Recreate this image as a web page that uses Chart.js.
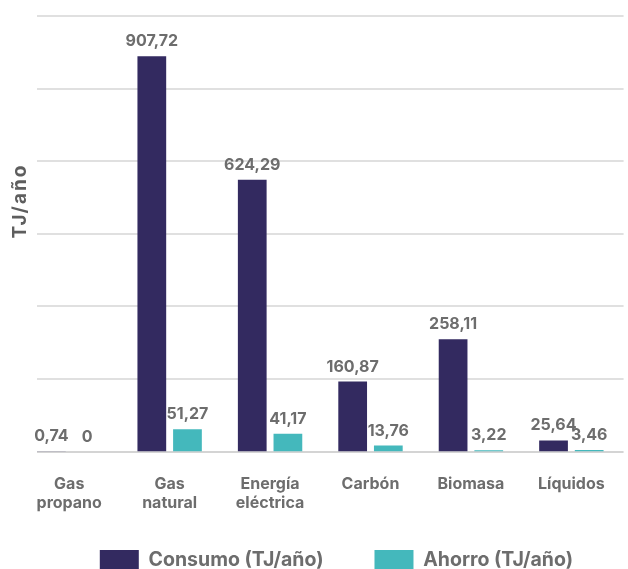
<!DOCTYPE html>
<html>
<head>
<meta charset="utf-8">
<script src="https://cdn.jsdelivr.net/npm/chart.js@4/dist/chart.umd.min.js"></script>
<style>
  html, body { margin: 0; padding: 0; background: #fff; overflow: hidden; }
  #wrap { width: 628px; height: 569px; overflow: hidden; }
</style>
</head>
<body>
<div id="wrap"><canvas id="c" width="628" height="617"></canvas></div>
<script>
// Categorías de energía (etiquetas en dos líneas)
const categories = [["Gas", "propano"], ["Gas", "natural"], ["Energía", "eléctrica"], ["Carbón"], ["Biomasa"], ["Líquidos"]];
// Consumo anual por fuente (TJ/año)
const consumo = [0.74, 907.72, 624.29, 160.87, 258.11, 25.64];
// Ahorro anual por fuente (TJ/año)
const ahorro = [0, 51.27, 41.17, 13.76, 3.22, 3.46];
// Líneas de referencia del eje Y
const gridValues = [0, 1000 / 6, 2000 / 6, 3000 / 6, 4000 / 6, 5000 / 6, 1000];

const FONT = "Inter, 'Noto Sans', sans-serif";
const TEXT = "#6d6d6d";

const fmt = v => String(v).replace(".", ",");

// Líneas horizontales y título del eje Y
const gridPlugin = {
  id: "gridLines",
  afterLayout(chart) {
    // acerca la leyenda a las etiquetas del eje X
    const lg = chart.legend;
    if (lg) { lg.top -= 37; lg.bottom -= 37; }
  },
  beforeDatasetsDraw(chart) {
    const { ctx, chartArea, scales } = chart;
    ctx.save();
    ctx.lineWidth = 2;
    gridValues.forEach(v => {
      const y = Math.round(scales.y.getPixelForValue(v));
      ctx.strokeStyle = v === 0 ? "#d4d4d4" : "#e0e0e0";
      ctx.beginPath();
      ctx.moveTo(37, y);
      ctx.lineTo(chartArea.right + 2, y);
      ctx.stroke();
    });
    ctx.translate(20, 202);
    ctx.rotate(-Math.PI / 2);
    ctx.fillStyle = "#5e5e5e";
    ctx.font = "700 19px " + FONT;
    ctx.letterSpacing = "2px";
    ctx.textAlign = "center";
    ctx.textBaseline = "middle";
    ctx.fillText("TJ/año", 1, 0);
    ctx.restore();
  }
};

// Valores encima de cada barra
const valuePlugin = {
  id: "valueLabels",
  afterDatasetsDraw(chart) {
    const { ctx } = chart;
    ctx.save();
    ctx.font = "700 16px " + FONT;
    ctx.fillStyle = TEXT;
    ctx.textAlign = "center";
    ctx.textBaseline = "alphabetic";
    chart.data.datasets.forEach((ds, di) => {
      chart.getDatasetMeta(di).data.forEach((bar, i) => {
        ctx.fillText(fmt(ds.data[i]), bar.x, bar.y - 10);
      });
    });
    ctx.restore();
  }
};

new Chart(document.getElementById("c"), {
  type: "bar",
  data: {
    labels: categories,
    datasets: [
      { label: "Consumo (TJ/año)", data: consumo, backgroundColor: "#332a60" },
      { label: "Ahorro (TJ/año)", data: ahorro, backgroundColor: "#44b8bc" }
    ]
  },
  options: {
    responsive: false,
    animation: false,
    devicePixelRatio: 1,
    categoryPercentage: 0.71,
    barPercentage: 0.806,
    layout: { padding: { left: 19, right: 4, top: 16, bottom: 0 } },
    scales: {
      x: {
        grid: { display: false, drawTicks: false },
        border: { display: false },
        ticks: {
          color: TEXT,
          font: { family: FONT, size: 16, weight: "700", lineHeight: 1.2 },
          padding: 23,
          maxRotation: 0
        }
      },
      y: {
        min: 0,
        max: 1000,
        grid: { display: false },
        border: { display: false },
        afterFit(scale) { scale.width = 0; },
        ticks: { display: false, stepSize: 1000 / 6 }
      }
    },
    plugins: {
      legend: {
        position: "bottom",
        align: "end",
        labels: {
          boxWidth: 39,
          boxHeight: 20,
          padding: 51,
          color: TEXT,
          font: { family: FONT, size: 19.5, weight: "700" }
        }
      },
      tooltip: { enabled: false }
    }
  },
  plugins: [gridPlugin, valuePlugin]
});
</script>
</body>
</html>
